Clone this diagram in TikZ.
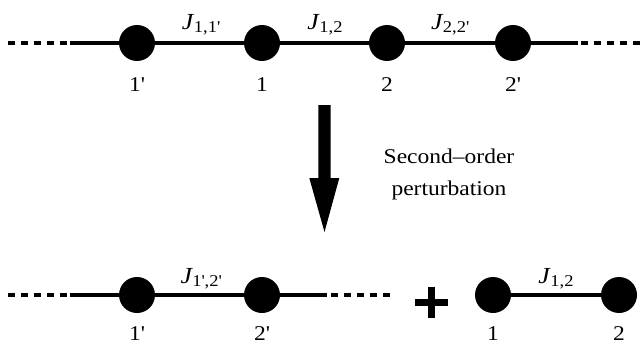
\documentclass[tikz,border=0pt]{standalone}
\usepackage{fontspec}
\setmainfont{Liberation Serif}[FakeStretch=1.12]
\newcommand{\jsub}[1]{{\fontsize{23}{24}\selectfont\itshape J}\kern0.5pt\raisebox{-3pt}{\fontsize{16.5}{16.5}\selectfont #1}}
\newcommand{\pr}{\textquotesingle}
\begin{document}
\begin{tikzpicture}[x=1pt,y=-1pt,
  site/.style={circle,fill=black,inner sep=0pt,minimum size=36pt},
  bond/.style={line width=4pt},
  tailline/.style={line width=4pt,dash pattern=on 7pt off 6pt},
  lab/.style={anchor=base,inner sep=0pt,font=\fontsize{21}{24}\selectfont},
  plusbar/.style={line width=7pt}]
\useasboundingbox (0,0) rectangle (640,345);
% top chain
\node[site] (a1p) at (137,43) {};
\node[site] (a1) at (262,43) {};
\node[site] (a2) at (387,43) {};
\node[site] (a2p) at (513,43) {};
\coordinate (tl0) at (8,43);
\coordinate (tl1) at (70,43);
\coordinate (tr1) at (578,43);
\coordinate (tr0) at (640,43);
\draw[tailline] (tl0) -- (tl1);
\draw[bond] (tl1) -- (a1p);
\draw[bond] (a1p) -- (a1);
\draw[bond] (a1) -- (a2);
\draw[bond] (a2) -- (a2p);
\draw[bond] (a2p) -- (tr1);
\draw[tailline] (tr0) -- (tr1);
\node[lab] (ta) at (137,92) {1\pr};
\node[lab] (tb) at (262,92) {1};
\node[lab] (tc) at (387,92) {2};
\node[lab] (td) at (513,92) {2\pr};
\node[lab] (ja) at (201,30) {\jsub{1,1\pr}};
\node[lab] (jb) at (325,30) {\jsub{1,2}};
\node[lab] (jc) at (450,30) {\jsub{2,2\pr}};
% arrow
\fill (318.3,105) -- (330.7,105) -- (330.7,178) -- (339.3,178) -- (324.5,232) -- (309.3,178) -- (318.3,178) -- cycle;
\node[lab] (t1) at (449,163) {Second–order};
\node[lab] (t2) at (449,195) {perturbation};
% bottom chain
\node[site] (b1p) at (137,295) {};
\node[site] (b2p) at (262,295) {};
\coordinate (bl0) at (8,295);
\coordinate (bl1) at (70,295);
\coordinate (br1) at (327,295);
\coordinate (br0) at (390,295);
\draw[tailline] (bl0) -- (bl1);
\draw[bond] (bl1) -- (b1p);
\draw[bond] (b1p) -- (b2p);
\draw[bond] (b2p) -- (br1);
\draw[tailline] (br0) -- (br1);
\node[lab] (ba) at (137,340) {1\pr};
\node[lab] (bb) at (262,340) {2\pr};
\node[lab] (jd) at (201,283) {\jsub{1\pr,2\pr}};
% plus
\draw[plusbar] (415,302.5) -- (448.3,302.5);
\draw[plusbar] (431.7,286.7) -- (431.7,318.3);
% isolated pair
\node[site] (c1) at (493,295) {};
\node[site] (c2) at (619,295) {};
\draw[bond] (c1) -- (c2);
\node[lab] (ca) at (493,340) {1};
\node[lab] (cb) at (619,340) {2};
\node[lab] (je) at (556,283) {\jsub{1,2}};
\end{tikzpicture}
\end{document}
